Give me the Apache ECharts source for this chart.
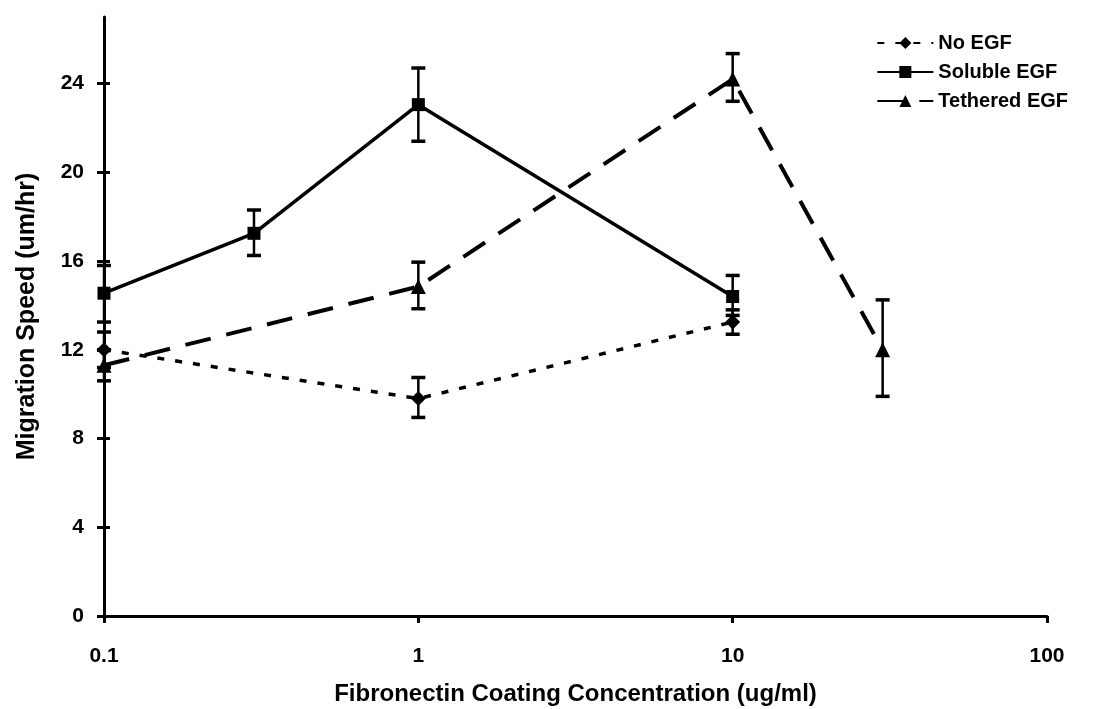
<!DOCTYPE html>
<html><head><meta charset="utf-8">
<script src="https://cdn.jsdelivr.net/npm/echarts@6/dist/echarts.min.js"></script>
<style>html,body{margin:0;padding:0;background:#fff}#c{width:1099px;height:709px}</style>
</head><body><div id="c"></div>
<script>
// Data
const noEgfX = [0.1, 1, 10];
const noEgfY = [12.0, 9.8, 13.25];
const noEgfLow = [11.2, 8.95, 12.7];
const noEgfHigh = [12.8, 10.75, 13.8];

const solX = [0.1, 0.3, 1, 10];
const solY = [14.55, 17.25, 23.05, 14.4];
const solLow = [13.25, 16.25, 21.4, 13.55];
const solHigh = [15.8, 18.3, 24.7, 15.35];

const tetX = [0.1, 1, 10, 30];
const tetY = [11.3, 14.85, 24.2, 12.0];
const tetLow = [10.6, 13.85, 23.2, 9.9];
const tetHigh = [12.0, 15.95, 25.35, 14.25];

const yTicks = [0, 4, 8, 12, 16, 20, 24];
const xTicks = [0.1, 1, 10, 100];

const FONT = '"Liberation Sans", Arial, sans-serif';

function pts(xs, ys) { return xs.map((x, i) => [x, ys[i]]); }
function errData(xs, lo, hi) { return xs.map((x, i) => [x, lo[i], hi[i]]); }

function errSeries(name, xs, lo, hi) {
  return {
    type: 'custom', name: name + ' err', silent: true, z: 3,
    data: errData(xs, lo, hi),
    renderItem: function (params, api) {
      const x = api.value(0);
      const a = api.coord([x, api.value(1)]);
      const b = api.coord([x, api.value(2)]);
      const w = 7;
      const st = { stroke: '#000', lineWidth: 2.5 };
      return { type: 'group', children: [
        { type: 'line', shape: { x1: a[0], y1: a[1], x2: b[0], y2: b[1] }, style: st },
        { type: 'line', shape: { x1: a[0] - w, y1: a[1], x2: a[0] + w, y2: a[1] }, style: { stroke: '#000', lineWidth: 3.5 } },
        { type: 'line', shape: { x1: b[0] - w, y1: b[1], x2: b[0] + w, y2: b[1] }, style: { stroke: '#000', lineWidth: 3.5 } }
      ]};
    }
  };
}

const chart = echarts.init(document.getElementById('c'), null, { renderer: 'canvas' });
chart.setOption({
  animation: false,
  backgroundColor: '#fff',
  grid: { left: 104, right: 52, top: 17, bottom: 93, containLabel: false, outerBoundsMode: 'none' },
  legend: {
    right: 26, top: 28, orient: 'vertical', itemGap: 9,
    itemWidth: 56, itemHeight: 15,
    data: ['No EGF', 'Soluble EGF', 'Tethered EGF'],
    textStyle: { fontFamily: FONT, fontWeight: 'bold', fontSize: 20, color: '#000' }
  },
  xAxis: {
    type: 'log', logBase: 10, min: 0.1, max: 100,
    name: 'Fibronectin Coating Concentration (ug/ml)',
    nameLocation: 'middle', nameGap: 66,
    nameTextStyle: { fontFamily: FONT, fontWeight: 'bold', fontSize: 24, color: '#000' },
    axisLine: { lineStyle: { color: '#000', width: 3 } },
    axisTick: { show: true, inside: false, length: 7, lineStyle: { color: '#000', width: 3 } },
    axisLabel: { fontFamily: FONT, fontWeight: 'bold', fontSize: 21, color: '#000', margin: 30,
      formatter: function (v) { return String(+v.toPrecision(3)); } },
    splitLine: { show: false }, minorTick: { show: false }
  },
  yAxis: [{
    type: 'value', min: 0, max: 27,
    name: 'Migration Speed (um/hr)', nameLocation: 'middle', nameGap: 64,
    nameTextStyle: { fontFamily: FONT, fontWeight: 'bold', fontSize: 25, color: '#000' },
    axisLine: { show: true, lineStyle: { color: '#000', width: 3 } },
    axisTick: { show: true, length: 7, customValues: yTicks, lineStyle: { color: '#000', width: 3 } },
    axisLabel: { fontFamily: FONT, fontWeight: 'bold', fontSize: 21, color: '#000', margin: 20, customValues: yTicks },
    splitLine: { show: false }
  }, {
    type: 'value', min: 0, max: 27, position: 'left',
    axisLine: { show: false },
    axisTick: { show: true, inside: true, length: 6, customValues: yTicks, lineStyle: { color: '#000', width: 3 } },
    axisLabel: { show: false }, splitLine: { show: false }
  }],
  series: [
    {
      name: 'No EGF', type: 'line', data: pts(noEgfX, noEgfY), z: 4,
      symbol: 'diamond', symbolSize: 15,
      lineStyle: { color: '#000', width: 3.5, type: [7, 11] },
      itemStyle: { color: '#000' }
    },
    {
      name: 'Soluble EGF', type: 'line', data: pts(solX, solY), z: 4,
      symbol: 'rect', symbolSize: 13,
      lineStyle: { color: '#000', width: 3.5, type: 'solid' },
      itemStyle: { color: '#000' }
    },
    {
      name: 'Tethered EGF', type: 'line', data: pts(tetX, tetY), z: 4,
      symbol: 'triangle', symbolSize: 15,
      lineStyle: { color: '#000', width: 4, type: [26, 16] },
      itemStyle: { color: '#000' }
    },
    errSeries('No EGF', noEgfX, noEgfLow, noEgfHigh),
    errSeries('Soluble EGF', solX, solLow, solHigh),
    errSeries('Tethered EGF', tetX, tetLow, tetHigh)
  ]
});
</script>
</body></html>
